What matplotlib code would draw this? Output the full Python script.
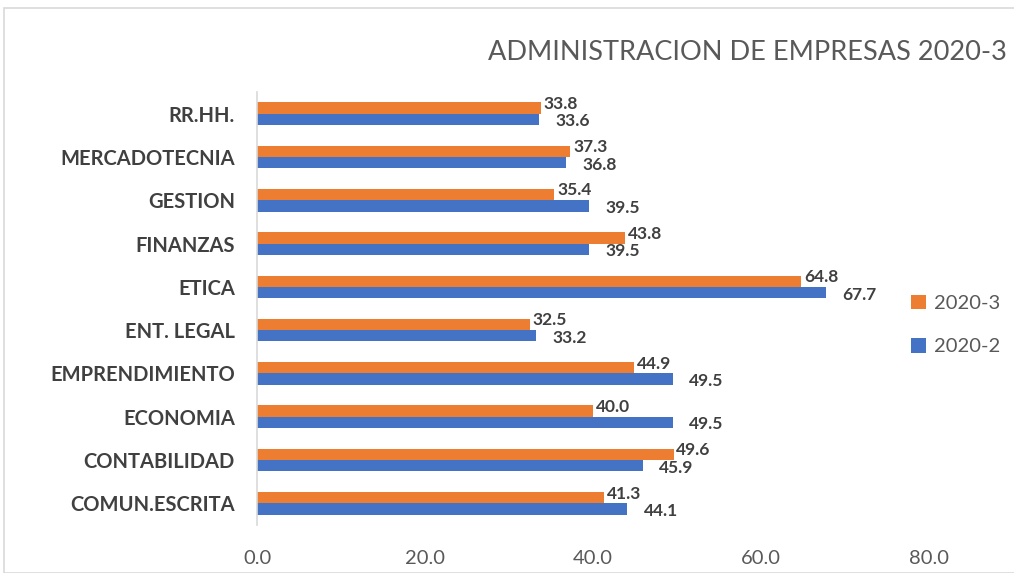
import matplotlib.pyplot as plt
import matplotlib.patches as mpatches
import numpy as np

categories = ["COMUN.ESCRITA", "CONTABILIDAD", "ECONOMIA", "EMPRENDIMIENTO", "ENT. LEGAL",
              "ETICA", "FINANZAS", "GESTION", "MERCADOTECNIA", "RR.HH."]
s2020_3 = [41.3, 49.6, 40.0, 44.9, 32.5, 64.8, 43.8, 35.4, 37.3, 33.8]
s2020_2 = [44.1, 45.9, 49.5, 49.5, 33.2, 67.7, 39.5, 39.5, 36.8, 33.6]
xticks = [0, 20, 40, 60, 80]

plt.rcParams['font.family'] = ['Lato', 'DejaVu Sans']

orange = "#ED7D31"
blue = "#4472C4"
dark = "#404040"
gray = "#595959"

fig = plt.figure(figsize=(10.14, 5.73), dpi=100)
ax = fig.add_axes([257 / 1014, 1 - 525 / 573, (929 - 257) / 1014, (525 - 92) / 573])

y = np.arange(len(categories))
h = 0.26
ax.barh(y + h / 2, s2020_3, height=h, color=orange, label="2020-3")
ax.barh(y - h / 2, s2020_2, height=h, color=blue, label="2020-2")

for yi, v in zip(y, s2020_3):
    ax.annotate(f"{v:.1f}", (v, yi + h / 2), xytext=(2, 3), textcoords="offset points",
                va="center", ha="left", fontsize=12.5, fontweight="bold", color=dark)
for yi, v in zip(y, s2020_2):
    ax.annotate(f"{v:.1f}", (v, yi - h / 2), xytext=(12, -1.5), textcoords="offset points",
                va="center", ha="left", fontsize=12.5, fontweight="bold", color=dark)

ax.set_xlim(0, 80)
ax.set_ylim(-0.5, len(categories) - 0.5)
ax.set_yticks(y)
ax.set_yticklabels(categories, fontsize=14.5, fontweight="bold", color=dark)
ax.set_xticks(xticks)
ax.set_xticklabels([f"{t:.1f}" for t in xticks], fontsize=14.5, color=gray)
ax.tick_params(axis="both", length=0)
ax.tick_params(axis="y", pad=16)
ax.tick_params(axis="x", pad=18)
for side in ["top", "right", "bottom"]:
    ax.spines[side].set_visible(False)
ax.spines["left"].set_color("#D9D9D9")
ax.spines["left"].set_linewidth(1.2)

fig.text(1007 / 1014, 1 - 52 / 573, "ADMINISTRACION DE EMPRESAS 2020-3", ha="right", va="center",
         fontsize=19.5, color=gray)

handles, labels = ax.get_legend_handles_labels()
fig.legend(handles, labels, loc="center left", bbox_to_anchor=(893 / 1014, 1 - 325 / 573),
           frameon=False, fontsize=14.5, labelcolor=gray, handlelength=0.75, handleheight=0.75,
           labelspacing=1.3, handletextpad=0.4)

fig.patches.append(mpatches.Rectangle((4 / 1014, 0), 1.1, 1 - 8 / 573, transform=fig.transFigure,
                                      fill=False, edgecolor="#D9D9D9", linewidth=1.2))

fig.savefig("out.png", dpi=100)
